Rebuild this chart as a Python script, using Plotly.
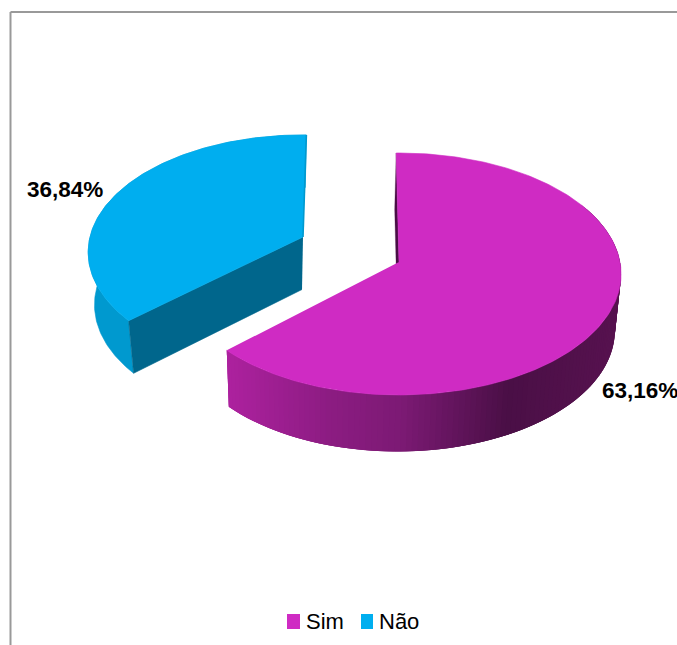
import numpy as np
import plotly.graph_objects as go

# Survey shares, in percent
categories = ["Sim", "Não"]
shares = [63.16, 36.84]
share_labels = ["63,16%", "36,84%"]

TOP_COLORS = {"Sim": "#CF2BC3", "Não": "#00AEEF"}
RIM_COLOR_NAO = "#0099CF"
CUT_COLOR_NAO = "#00668C"
FACE_COLOR_SIM = "#4A0E46"
# Shade of the outer wall of the large slice, by horizontal position
WALL_X = [232, 330, 400, 505, 622]
WALL_R = [172, 140, 124, 74, 88]
WALL_G = [33, 28, 26, 15, 18]
WALL_B = [158, 130, 116, 70, 80]

# Projection of each exploded slice: hub position, radii, perspective,
# first angle of the slice and the extrusion towards the floor
VIEW = {
    "Sim": dict(x0=399, y0=262, a=221, b=119.8, k=0.099, start=-0.8,
                depth=56.5, vp=325, shrink=0.979),
    "Não": dict(x0=303, y0=237, a=213, b=115.3, k=0.13, start=228.4,
                depth=52.5, vp=274, shrink=0.966),
}


def rim(view, theta):
    """Top-face point of the pie at clockwise angle theta, in degrees."""
    t = np.radians(theta)
    u, v = np.sin(t), np.cos(t)
    d = 1 + view["k"] * v
    return view["x0"] + view["a"] * u / d, view["y0"] - view["b"] * v / d


def floor(view, x, y):
    """Drop a top-face point onto the floor of the extruded slice."""
    return view["vp"] + (np.asarray(x) - view["vp"]) * view["shrink"], np.asarray(y) + view["depth"]


def polygon(fig, xs, ys, color, name, line_width=0.6):
    fig.add_trace(go.Scatter(
        x=list(xs), y=list(ys), mode="lines", fill="toself", fillcolor=color,
        line=dict(color=color, width=line_width), name=name,
        showlegend=False, hoverinfo="name",
    ))


fig = go.Figure()

sweep = {c: s / sum(shares) * 360 for c, s in zip(categories, shares)}

# Slice "Não": outer wall, cut face, edge highlight and top face
nao = VIEW["Não"]
nao_a0, nao_a1 = nao["start"], nao["start"] + sweep["Não"]
th = np.linspace(nao_a0, nao_a1, 140)
rx, ry = rim(nao, th)
fx, fy = floor(nao, rx, ry)
polygon(fig, np.r_[rx, fx[::-1]], np.r_[ry, fy[::-1]], RIM_COLOR_NAO, "Não")

cx, cy = rim(nao, nao_a0)
hx, hy = nao["x0"], nao["y0"]
fcx, fcy = floor(nao, cx, cy)
fhx, fhy = floor(nao, hx, hy)
polygon(fig, [hx, cx, fcx, fhx], [hy, cy, fcy, fhy], CUT_COLOR_NAO, "Não")
polygon(fig, np.r_[hx, rx], np.r_[hy, ry], TOP_COLORS["Não"], "Não")
ex, ey = rim(nao, nao_a1)
fig.add_trace(go.Scatter(x=[hx, ex], y=[hy, ey], mode="lines", showlegend=False,
                         line=dict(color=RIM_COLOR_NAO, width=1.6), hoverinfo="skip"))

# Slice "Sim": start face, shaded outer wall and top face
sim = VIEW["Sim"]
sim_a0, sim_a1 = sim["start"], sim["start"] + sweep["Sim"]
hx, hy = sim["x0"], sim["y0"]
sx, sy = rim(sim, sim_a0)
fsx, fsy = floor(sim, sx, sy)
fhx, fhy = floor(sim, hx, hy)
polygon(fig, [hx, sx, fsx, fhx], [hy, sy, fsy, fhy], FACE_COLOR_SIM, "Sim", 0.3)

# Wall strips run from the right to the cut; each one reaches under the next
edges = np.linspace(60, sim_a1, 121)
for t0, t1 in zip(edges[:-1], edges[1:]):
    seg = np.linspace(t0, min(t1 + 2 * (t1 - t0), sim_a1), 4)
    rx, ry = rim(sim, seg)
    fx, fy = floor(sim, rx, ry)
    mid = float(np.mean(floor(sim, *rim(sim, np.array([t0, t1])))[0]))
    color = "rgb({:.0f},{:.0f},{:.0f})".format(
        np.interp(mid, WALL_X, WALL_R), np.interp(mid, WALL_X, WALL_G), np.interp(mid, WALL_X, WALL_B))
    polygon(fig, np.r_[rx, fx[::-1]], np.r_[ry, fy[::-1]], color, "Sim", 0)

th = np.linspace(sim_a0, sim_a1, 220)
rx, ry = rim(sim, th)
polygon(fig, np.r_[hx, rx], np.r_[hy, ry], TOP_COLORS["Sim"], "Sim")

frame = dict(type="line", xref="paper", yref="paper", line=dict(color="#999999", width=2))
legend_keys = [("Sim", 287, 300), ("Não", 361, 373)]
shapes = [
    dict(frame, x0=10.5 / 677, x1=10.5 / 677, y0=0, y1=1 - 12 / 645),
    dict(frame, x0=10.5 / 677, x1=1, y0=1 - 12 / 645, y1=1 - 12 / 645),
]
for cat, left, right in legend_keys:
    shapes.append(dict(type="rect", xref="x", yref="y", x0=left, x1=right, y0=614, y1=629,
                       fillcolor=TOP_COLORS[cat], line=dict(width=0)))

label_font = dict(family="Liberation Sans", size=22.5, color="#000000")
legend_font = dict(family="Liberation Sans", size=22, color="#000000")
annotations = [
    dict(x=600.5, y=390, text="<b>%s</b>" % share_labels[0], font=label_font),
    dict(x=26, y=189, text="<b>%s</b>" % share_labels[1], font=label_font),
    dict(x=304.5, y=621, text=categories[0], font=legend_font),
    dict(x=377.5, y=621, text=categories[1], font=legend_font),
]
for note in annotations:
    note.update(xref="x", yref="y", xanchor="left", yanchor="middle", showarrow=False,
                borderpad=0, align="left")

fig.update_layout(
    width=677, height=645, margin=dict(l=0, r=0, t=0, b=0),
    paper_bgcolor="#FFFFFF", plot_bgcolor="#FFFFFF", showlegend=False,
    xaxis=dict(range=[0, 677], visible=False, fixedrange=True),
    yaxis=dict(range=[645, 0], visible=False, fixedrange=True),
    shapes=shapes, annotations=annotations,
)

fig.write_html("out.html", config=dict(displayModeBar=False))
